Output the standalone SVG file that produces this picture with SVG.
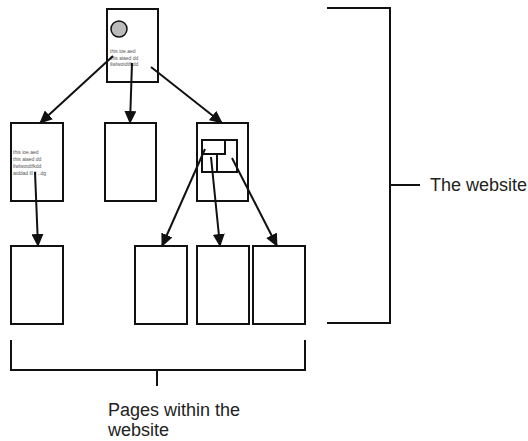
<svg xmlns="http://www.w3.org/2000/svg" width="528" height="441" viewBox="0 0 528 441">
<defs>
<marker id="ah" markerWidth="13" markerHeight="12" refX="12" refY="6" orient="auto" markerUnits="userSpaceOnUse" viewBox="0 0 13 12">
<path d="M0,0 L13,6 L0,12 z" fill="#111"/>
</marker>
<style>
.pg{fill:#fff;stroke:#111;stroke-width:2}
.ln{fill:none;stroke:#111;stroke-width:2}
.ar{fill:none;stroke:#111;stroke-width:2;marker-end:url(#ah)}
.tiny{font-family:"Liberation Sans",Arial,sans-serif;font-size:5px;fill:#555}
.lbl{font-family:"Liberation Sans",Arial,sans-serif;font-size:18px;fill:#222}
</style>
</defs>
<rect width="528" height="441" fill="#fff"/>
<g id="home">
<rect class="pg" x="107" y="9" width="51" height="73"/>
<circle cx="119" cy="29" r="8" fill="#bbb" stroke="#111" stroke-width="1.5"/>
<text class="tiny" x="110" y="53">this ioe.aed</text>
<text class="tiny" x="110" y="59.5">this aiaed dd</text>
<text class="tiny" x="110" y="66">ilwlwotdtfkdd</text>
</g>
<g id="page-l2a">
<rect class="pg" x="11" y="123" width="52" height="78"/>
<text class="tiny" x="13" y="154">this ioe.aed</text>
<text class="tiny" x="13" y="161">this aiaed dd</text>
<text class="tiny" x="13" y="168">ilwlwotdtfkdd</text>
<text class="tiny" x="13" y="175">aiddad ill ll ..dg</text>
</g>
<g id="page-l2b">
<rect class="pg" x="105" y="123" width="51" height="78"/>
</g>
<g id="page-l2c">
<rect class="pg" x="197" y="123" width="51" height="78"/>
<rect class="ln" x="202" y="140" width="35" height="32"/>
<rect class="ln" x="202" y="140" width="23" height="14"/>
<line class="ln" x1="217" y1="154" x2="217" y2="172"/>
</g>
<g id="page-l3a"><rect class="pg" x="11" y="246" width="52" height="78"/></g>
<g id="page-l3b"><rect class="pg" x="135" y="246" width="52" height="78"/></g>
<g id="page-l3c"><rect class="pg" x="197" y="246" width="52" height="78"/></g>
<g id="page-l3d"><rect class="pg" x="253" y="246" width="52" height="78"/></g>
<g id="connectors">
<line class="ar" x1="113" y1="56" x2="40" y2="123"/>
<line class="ar" x1="132" y1="63" x2="130" y2="123"/>
<line class="ar" x1="151" y1="67" x2="222" y2="123"/>
<line class="ar" x1="35" y1="172" x2="38" y2="246"/>
<line class="ar" x1="205" y1="149" x2="162" y2="246"/>
<line class="ar" x1="211" y1="157" x2="220" y2="246"/>
<line class="ar" x1="232" y1="158" x2="277" y2="246"/>
</g>
<g id="bracket-pages">
<path class="ln" d="M11,340 V370 H305 V340 M157,370 V386"/>
<text class="lbl" x="108" y="416">Pages within the</text>
<text class="lbl" x="108" y="436">website</text>
</g>
<g id="bracket-site">
<path class="ln" d="M327,8 H390 V323 H327 M390,185 H420"/>
<text class="lbl" x="430" y="191">The website</text>
</g>
</svg>
